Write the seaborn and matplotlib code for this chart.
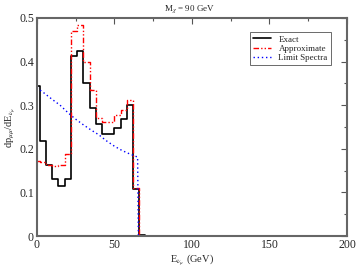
import matplotlib
matplotlib.use("Agg")
import matplotlib.pyplot as plt
from matplotlib.ticker import MultipleLocator, FuncFormatter
import pandas as pd
import seaborn as sns

sns.set_style("white")
plt.rcParams["font.family"] = ["Liberation Serif", "DejaVu Serif"]
plt.rcParams["mathtext.fontset"] = "stix"

# bin edges (GeV) of the step histograms
edges = [0, 2, 6, 10, 14, 18, 22, 26, 30, 34, 38, 42, 46, 50, 54, 58, 62, 66, 70, 200]
exact = [0.345, 0.218, 0.163, 0.131, 0.114, 0.131, 0.412, 0.425, 0.350, 0.294,
         0.256, 0.235, 0.233, 0.247, 0.268, 0.300, 0.108, 0.002, 0.0]
approx = [0.172, 0.170, 0.163, 0.160, 0.163, 0.187, 0.470, 0.483, 0.400, 0.335,
          0.270, 0.262, 0.262, 0.278, 0.290, 0.312, 0.110, 0.0, 0.0]

# limit spectra (smooth curve)
limit_x = [0, 5, 10, 15, 20, 25, 30, 35, 40, 45, 50, 55, 60, 65, 65.5, 70, 200]
limit_y = [0.340, 0.327, 0.313, 0.300, 0.283, 0.268, 0.255, 0.243, 0.232, 0.218,
           0.206, 0.196, 0.188, 0.181, 0.0, 0.0, 0.0]

df_exact = pd.DataFrame({"E": edges, "p": exact + [exact[-1]]})
df_approx = pd.DataFrame({"E": edges, "p": approx + [approx[-1]]})
df_limit = pd.DataFrame({"E": limit_x, "p": limit_y})

fig = plt.figure(figsize=(3.57, 2.67), dpi=100)
ax = fig.add_axes([0.103, 0.116, 0.869, 0.817])

sns.lineplot(data=df_exact, x="E", y="p", ax=ax, color="black", lw=1.2,
             drawstyle="steps-post", label="Exact", sort=False)
sns.lineplot(data=df_approx, x="E", y="p", ax=ax, color="red", lw=1.0,
             drawstyle="steps-post", label="Approximate", sort=False,
             dashes=False, linestyle=(0, (4, 1.5, 1, 1.5, 1, 1.5)))
sns.lineplot(data=df_limit, x="E", y="p", ax=ax, color="blue", lw=1.0,
             label="Limit Spectra", sort=False, linestyle=(0, (1, 2)))

ax.set_xlim(0, 200)
ax.set_ylim(0, 0.5)
ax.xaxis.set_major_locator(MultipleLocator(50))
ax.xaxis.set_minor_locator(MultipleLocator(25))
ax.yaxis.set_major_locator(MultipleLocator(0.1))
ax.yaxis.set_minor_locator(MultipleLocator(0.05))
ax.yaxis.set_major_formatter(FuncFormatter(lambda v, p: "%g" % round(v, 2)))
ax.tick_params(which="both", direction="in", top=True, right=True,
               labelsize=8.5, pad=2, color="#555555")
ax.tick_params(which="major", length=4, width=0.8)
ax.tick_params(which="minor", length=2.5, width=0.8)
for s in ax.spines.values():
    s.set_color("#666666")
    s.set_linewidth(1.5)

ax.set_xlabel(r"E$_{\nu_\mu}$ (GeV)", fontsize=7.5, labelpad=1)
ax.set_ylabel(r"dp$_{\mu\mu}$/dE$_{\nu_\mu}$", fontsize=7.5, labelpad=1)
fig.text(0.53, 0.965, r"M$_\chi$ = 90 GeV", fontsize=6.5, ha="center", va="center")

leg = ax.legend(loc="upper right", bbox_to_anchor=(0.948, 0.935), fontsize=6.5,
                frameon=True, fancybox=False, handlelength=2.0,
                borderpad=0.35, labelspacing=0.1, handletextpad=0.8,
                borderaxespad=0)
leg.get_frame().set_edgecolor("#444444")
leg.get_frame().set_linewidth(0.7)

fig.savefig("out.png", dpi=100)
